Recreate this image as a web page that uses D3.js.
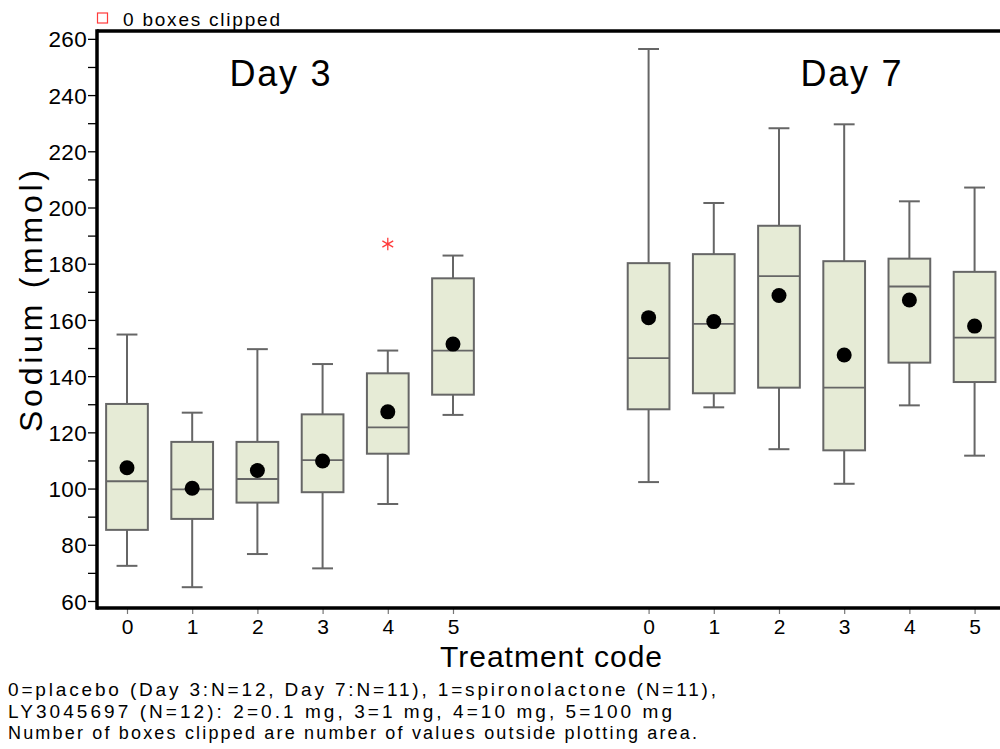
<!DOCTYPE html>
<html>
<head>
<meta charset="utf-8">
<script src="https://cdn.jsdelivr.net/npm/d3@7"></script>
<style>
  body { margin: 0; background: #fff; }
  text { font-family: 'Liberation Sans', Arial, sans-serif; fill: #000; }
</style>
</head>
<body>
<svg id="chart" width="1000" height="749"></svg>
<script>
// sodium by treatment code, Day 3 and Day 7 box plots

const days = ['Day 3', 'Day 7']
const codes = [0, 1, 2, 3, 4, 5]
const yTicks = [60, 80, 100, 120, 140, 160, 180, 200, 220, 240, 260]
const yMinorTicks = [70, 90, 110, 130, 150, 170, 190, 210, 230, 250]

// Day 3 stats per treatment code
const d3Low = [72.5, 64.9, 76.7, 71.6, 94.5, 126.2]
const d3Q1 = [85.3, 89.2, 95.0, 98.7, 112.4, 133.4]
const d3Median = [102.6, 99.7, 103.4, 110.1, 121.8, 149.1]
const d3Q3 = [130.1, 116.6, 116.6, 126.4, 141.0, 174.8]
const d3High = [154.8, 127.0, 149.6, 144.3, 149.1, 182.9]
const d3Mean = [107.4, 100.1, 106.4, 109.8, 127.3, 151.4]

// Day 7 stats per treatment code
const d7Low = [102.3, 128.9, 114.0, 101.7, 129.6, 111.7]
const d7Q1 = [128.2, 133.9, 135.9, 113.6, 144.8, 137.9]
const d7Median = [146.4, 158.6, 175.6, 135.9, 171.9, 153.7]
const d7Q3 = [180.2, 183.4, 193.5, 180.9, 181.8, 177.1]
const d7High = [256.4, 201.6, 228.2, 229.6, 202.2, 207.1]
const d7Mean = [160.8, 159.4, 168.7, 147.5, 167.1, 157.8]

// outliers (day index, code, value)
const outliers = [{ day: 0, code: 4, value: 187 }]

const notes = [
  '0=placebo (Day 3:N=12, Day 7:N=11), 1=spironolactone (N=11),',
  'LY3045697 (N=12): 2=0.1 mg, 3=1 mg, 4=10 mg, 5=100 mg',
  'Number of boxes clipped are number of values outside plotting area.'
]

const stats = [
  { low: d3Low, q1: d3Q1, median: d3Median, q3: d3Q3, high: d3High, mean: d3Mean },
  { low: d7Low, q1: d7Q1, median: d7Median, q3: d7Q3, high: d7High, mean: d7Mean }
]

const dayGap = 8 // slot of the first Day 7 box
const pos = (day, code) => code + day * dayGap

const boxes = []
stats.forEach((s, di) => {
  codes.forEach((c, i) => {
    boxes.push({
      day: di, code: c,
      low: s.low[i], q1: s.q1[i], median: s.median[i],
      q3: s.q3[i], high: s.high[i], mean: s.mean[i]
    })
  })
})

const svg = d3.select('#chart')
const plotLeft = 97, plotTop = 31, plotBottom = 608

const x = d3.scaleLinear().domain([-0.46, 13.85]).range([plotLeft, 1030])
const y = d3.scaleLinear().domain([57.5, 262.8]).range([plotBottom, plotTop])

const boxW = x(0.32) - x(0)
const capW = x(0.16) - x(0)

// y axis
const yAxis = svg.append('g')
  .attr('transform', `translate(${plotLeft},0)`)
  .call(d3.axisLeft(y).tickValues(yTicks).tickSize(9).tickPadding(1).tickFormat(d3.format('d')))
yAxis.select('.domain').remove()
yAxis.selectAll('.tick line').attr('stroke', '#000').attr('stroke-width', 1.3)
yAxis.selectAll('.tick text')
  .style('font-size', '22.5px')
  .style('letter-spacing', '0.3px')
  .attr('dy', '0.36em')

svg.append('g')
  .attr('transform', `translate(${plotLeft},0)`)
  .call(d3.axisLeft(y).tickValues(yMinorTicks).tickSize(9).tickFormat(''))
  .call(g => g.select('.domain').remove())
  .selectAll('.tick line').attr('stroke', '#000').attr('stroke-width', 1.3)

// x axis
const xTickPos = []
const xTickLab = []
days.forEach((d, di) => codes.forEach(c => { xTickPos.push(pos(di, c)); xTickLab.push(String(c)) }))

const xAxis = svg.append('g')
  .attr('transform', `translate(0,${plotBottom})`)
  .call(d3.axisBottom(x).tickValues(xTickPos).tickSize(6).tickPadding(5)
    .tickFormat((d, i) => xTickLab[i]))
xAxis.select('.domain').remove()
xAxis.selectAll('.tick line').attr('stroke', '#777').attr('stroke-width', 1.2)
xAxis.selectAll('.tick text').style('font-size', '21px')

// frame lines
svg.append('line').attr('x1', plotLeft).attr('x2', 1000).attr('y1', plotTop).attr('y2', plotTop)
  .attr('stroke', '#000').attr('stroke-width', 3.5)
svg.append('line').attr('x1', plotLeft).attr('x2', plotLeft).attr('y1', plotTop - 1.7).attr('y2', plotBottom + 1.7)
  .attr('stroke', '#000').attr('stroke-width', 3.5)
svg.append('line').attr('x1', plotLeft).attr('x2', 1000).attr('y1', plotBottom).attr('y2', plotBottom)
  .attr('stroke', '#000').attr('stroke-width', 3.5)

// boxes
const grey = '#666'
const bg = svg.selectAll('.box')
  .data(boxes)
  .enter()
  .append('g')
  .attr('class', 'box')

bg.append('line') // upper whisker
  .attr('x1', d => x(pos(d.day, d.code))).attr('x2', d => x(pos(d.day, d.code)))
  .attr('y1', d => y(d.q3)).attr('y2', d => y(d.high))
  .attr('stroke', grey).attr('stroke-width', 2)
bg.append('line') // lower whisker
  .attr('x1', d => x(pos(d.day, d.code))).attr('x2', d => x(pos(d.day, d.code)))
  .attr('y1', d => y(d.q1)).attr('y2', d => y(d.low))
  .attr('stroke', grey).attr('stroke-width', 2)
bg.append('line') // top cap
  .attr('x1', d => x(pos(d.day, d.code)) - capW).attr('x2', d => x(pos(d.day, d.code)) + capW)
  .attr('y1', d => y(d.high)).attr('y2', d => y(d.high))
  .attr('stroke', grey).attr('stroke-width', 2)
bg.append('line') // bottom cap
  .attr('x1', d => x(pos(d.day, d.code)) - capW).attr('x2', d => x(pos(d.day, d.code)) + capW)
  .attr('y1', d => y(d.low)).attr('y2', d => y(d.low))
  .attr('stroke', grey).attr('stroke-width', 2)
bg.append('rect')
  .attr('x', d => x(pos(d.day, d.code)) - boxW)
  .attr('width', boxW * 2)
  .attr('y', d => y(d.q3))
  .attr('height', d => y(d.q1) - y(d.q3))
  .attr('fill', '#e6ebd6')
  .attr('stroke', grey).attr('stroke-width', 2)
bg.append('line') // median
  .attr('x1', d => x(pos(d.day, d.code)) - boxW).attr('x2', d => x(pos(d.day, d.code)) + boxW)
  .attr('y1', d => y(d.median)).attr('y2', d => y(d.median))
  .attr('stroke', grey).attr('stroke-width', 1.8)
bg.append('circle') // mean
  .attr('cx', d => x(pos(d.day, d.code)))
  .attr('cy', d => y(d.mean))
  .attr('r', 7.5)
  .attr('fill', '#000')

// outlier asterisks
const star = d3.symbol().type(d3.symbolAsterisk).size(110)
svg.selectAll('.outlier')
  .data(outliers)
  .enter()
  .append('path')
  .attr('class', 'outlier')
  .attr('d', star)
  .attr('transform', d => `translate(${x(pos(d.day, d.code))},${y(d.value)})`)
  .attr('fill', 'none')
  .attr('stroke', '#ff3b3b')
  .attr('stroke-width', 1.3)

// panel titles
const titleX = [280, 851]
days.forEach((d, i) => {
  svg.append('text')
    .attr('x', titleX[i]).attr('y', 86)
    .attr('text-anchor', 'middle')
    .style('font-size', '36px')
    .attr('textLength', 101)
    .text(d)
})

// top legend
svg.append('rect').attr('x', 97.5).attr('y', 13).attr('width', 10).attr('height', 10)
  .attr('fill', 'none').attr('stroke', '#ff3b3b').attr('stroke-width', 1.2)
svg.append('text').attr('x', 123).attr('y', 25.5)
  .style('font-size', '19px').attr('textLength', 157)
  .text('0 boxes clipped')

// axis labels
svg.append('text')
  .attr('transform', 'translate(42,301) rotate(-90)')
  .attr('text-anchor', 'middle')
  .style('font-size', '32px')
  .attr('textLength', 262)
  .text('Sodium (mmol)')

svg.append('text')
  .attr('x', 551).attr('y', 667)
  .attr('text-anchor', 'middle')
  .style('font-size', '30px')
  .attr('textLength', 222)
  .text('Treatment code')

// footnotes
const noteY = [696, 718, 739]
const noteW = [708, 664, 689]
const noteSize = [19, 19, 18]
notes.forEach((t, i) => {
  svg.append('text')
    .attr('x', 8).attr('y', noteY[i])
    .style('font-size', noteSize[i] + 'px')
    .attr('textLength', noteW[i])
    .text(t)
})
</script>
</body>
</html>
